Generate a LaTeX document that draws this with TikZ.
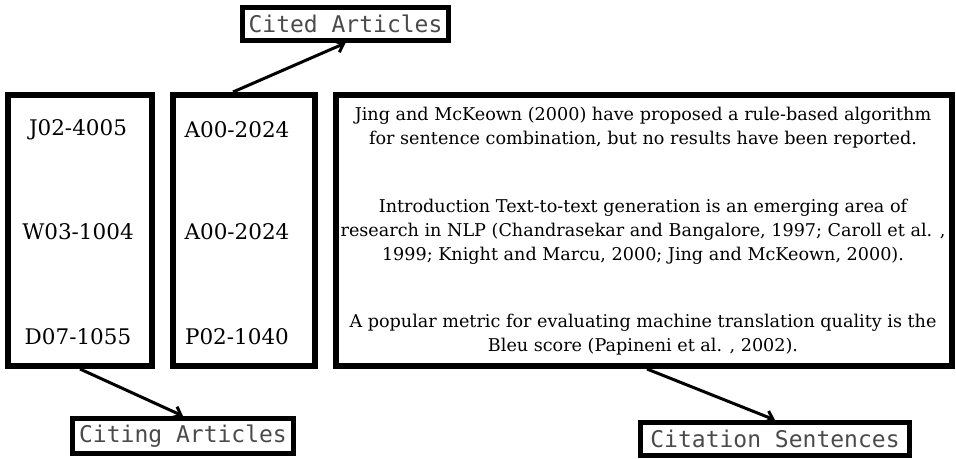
\documentclass[tikz,border=0pt]{standalone}
\usepackage{fontspec}
\setmainfont{DejaVu Serif}
\setmonofont{DejaVu Sans Mono}
\usetikzlibrary{arrows.meta}
\definecolor{labelgray}{HTML}{4A4A4A}
\tikzset{
  bigbox/.style={draw=black, line width=6pt, minimum height=271pt, inner sep=0pt},
  labelbox/.style={draw=black, line width=5pt, inner sep=0pt, font=\ttfamily\fontsize{23}{25}\selectfont, text=labelgray},
  idtext/.style={font=\fontsize{21.5}{24}\selectfont, inner sep=0pt},
  senttext/.style={font=\fontsize{17.6}{24}\selectfont, align=center, inner sep=0pt},
  conn/.style={line width=3pt, -{Straight Barb[length=7pt,width=12pt,line width=3pt]}}
}
\begin{document}
\begin{tikzpicture}[x=1pt,y=-1pt]
\useasboundingbox (0,0) rectangle (956,458);
\node[bigbox, minimum width=144pt] (b1) at (80,230.5) {};
\node[bigbox, minimum width=142pt] (b2) at (244,230.5) {};
\node[bigbox, minimum width=616pt] (b3) at (644,230.5) {};
\node[labelbox, minimum width=206pt, minimum height=33pt] (cited) at (345.5,24) {Cited Articles};
\node[labelbox, minimum width=221pt, minimum height=35pt] (citing) at (183,436) {Citing Articles};
\node[labelbox, minimum width=269pt, minimum height=33pt] (cs) at (775,439) {Citation Sentences};
\node[idtext] (i1) at (78,130) {J02-4005};
\node[idtext] (i2) at (78,232) {W03-1004};
\node[idtext] (i3) at (78,337) {D07-1055};
\node[idtext] (j1) at (237,130) {A00-2024};
\node[idtext] (j2) at (237,232) {A00-2024};
\node[idtext] (j3) at (237,337) {P02-1040};
\node[senttext] (s1) at (643,128) {Jing and McKeown (2000) have proposed a rule-based algorithm\\for sentence combination, but no results have been reported.};
\node[senttext] (s2) at (643,232) {Introduction Text-to-text generation is an emerging area of\\research in NLP (Chandrasekar and Bangalore, 1997; Caroll et al. ,\\1999; Knight and Marcu, 2000; Jing and McKeown, 2000).};
\node[senttext] (s3) at (643,335) {A popular metric for evaluating machine translation quality is the\\Bleu score (Papineni et al. , 2002).};
\draw[conn] ([xshift=-11pt]b2.north) -- (cited.south);
\draw[conn] (b1.south) -- (citing.north);
\draw[conn] ([xshift=3pt]b3.south) -- (cs.north);
\end{tikzpicture}
\end{document}
